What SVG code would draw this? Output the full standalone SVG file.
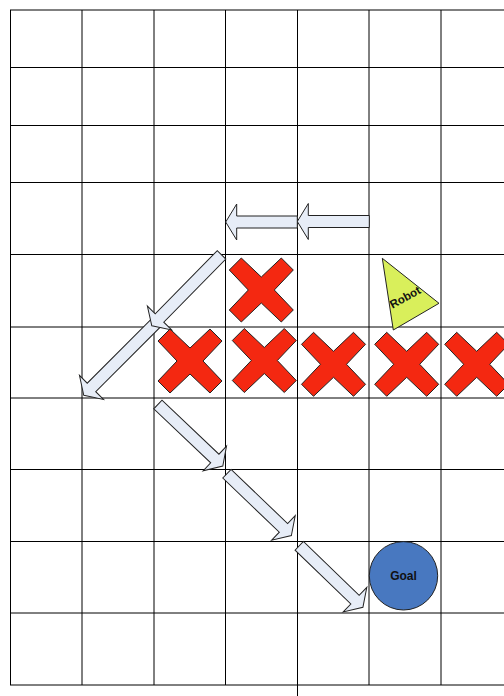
<svg xmlns="http://www.w3.org/2000/svg" xmlns:xlink="http://www.w3.org/1999/xlink" width="504" height="696" viewBox="0 0 504 696">
<style>
.grid line{stroke:#000;stroke-width:1}
.xmark{fill:#f42811;stroke:#222;stroke-width:1;stroke-linejoin:miter}
.arrow{fill:#e7edf7;stroke:#222;stroke-width:1;stroke-linejoin:miter}
.lbl{font-family:"Liberation Sans",Arial,sans-serif;font-weight:bold;fill:#111;text-anchor:middle}
</style>
<defs>
<polygon id="x" class="xmark" points="-20,-32 0,-13 20,-32 32,-20 13,0 32,20 20,32 0,13 -20,32 -32,20 -13,0 -32,-20"/>
</defs>
<rect width="504" height="696" fill="#fff"/>
<g id="grid" class="grid">
<line x1="10" y1="10" x2="504" y2="10"/>
<line x1="10" y1="67.5" x2="504" y2="67.5"/>
<line x1="10" y1="125.5" x2="504" y2="125.5"/>
<line x1="10" y1="182.5" x2="504" y2="182.5"/>
<line x1="10" y1="254.5" x2="504" y2="254.5"/>
<line x1="10" y1="327" x2="504" y2="327"/>
<line x1="10" y1="398" x2="504" y2="398"/>
<line x1="10" y1="469.5" x2="504" y2="469.5"/>
<line x1="10" y1="541.5" x2="504" y2="541.5"/>
<line x1="10" y1="613" x2="504" y2="613"/>
<line x1="10" y1="685" x2="504" y2="685"/>
<line x1="10.5" y1="10" x2="10.5" y2="685"/>
<line x1="82" y1="10" x2="82" y2="685"/>
<line x1="154" y1="10" x2="154" y2="685"/>
<line x1="225.5" y1="10" x2="225.5" y2="685"/>
<line x1="297.5" y1="10" x2="297.5" y2="696"/>
<line x1="369" y1="10" x2="369" y2="685"/>
<line x1="441" y1="10" x2="441" y2="685"/>
</g>
<g id="obstacles">
<use id="obstacle1" xlink:href="#x" href="#x" x="261.3" y="290"/>
<use id="obstacle2" xlink:href="#x" href="#x" x="190" y="361"/>
<use id="obstacle3" xlink:href="#x" href="#x" x="264.3" y="360.5"/>
<use id="obstacle4" xlink:href="#x" href="#x" x="333.5" y="364.3"/>
<use id="obstacle5" xlink:href="#x" href="#x" x="406.7" y="364.3"/>
<use id="obstacle6" xlink:href="#x" href="#x" x="476.7" y="364.3"/>
</g>
<g id="robot">
<polygon points="382.3,258.3 439,303.3 393.3,330" fill="#d9ef5b" stroke="#222" stroke-width="1"/>
<text class="lbl" x="405" y="301.2" font-size="11.5" transform="rotate(-29 405 297)">Robot</text>
</g>
<g id="goal">
<circle cx="403.5" cy="575.8" r="34.2" fill="#4878c0" stroke="#222" stroke-width="1"/>
<text class="lbl" x="403.5" y="580" font-size="12">Goal</text>
</g>
<g id="connectors">
<polygon class="arrow" points="297.3,221.5 308.3,203.5 308.3,215.5 369.3,215.5 369.3,227.5 308.3,227.5 308.3,239.5"/>
<polygon class="arrow" points="225.7,222 236.7,204 236.7,216 297.3,216 297.3,228 236.7,228 236.7,240"/>
<polygon class="arrow" transform="translate(83.7 395.2) rotate(135)" points="0,0 -11,-17 -11,-6 -105,-6 -105,6 -11,6 -11,17"/>
<polygon class="arrow" transform="translate(151.8 325.8) rotate(134.5)" points="0,0 -11,-17 -11,-6 -99.5,-6 -99.5,6 -11,6 -11,17"/>
<polygon class="arrow" transform="translate(222.8 466.1) rotate(43.5)" points="0,0 -11,-17 -11,-6 -89.5,-6 -89.5,6 -11,6 -11,17"/>
<polygon class="arrow" transform="translate(291.4 535.5) rotate(43.8)" points="0,0 -11,-17 -11,-6 -89.3,-6 -89.3,6 -11,6 -11,17"/>
<polygon class="arrow" transform="translate(362.9 607.3) rotate(44)" points="0,0 -11,-17 -11,-6 -88.5,-6 -88.5,6 -11,6 -11,17"/>
</g>
</svg>
